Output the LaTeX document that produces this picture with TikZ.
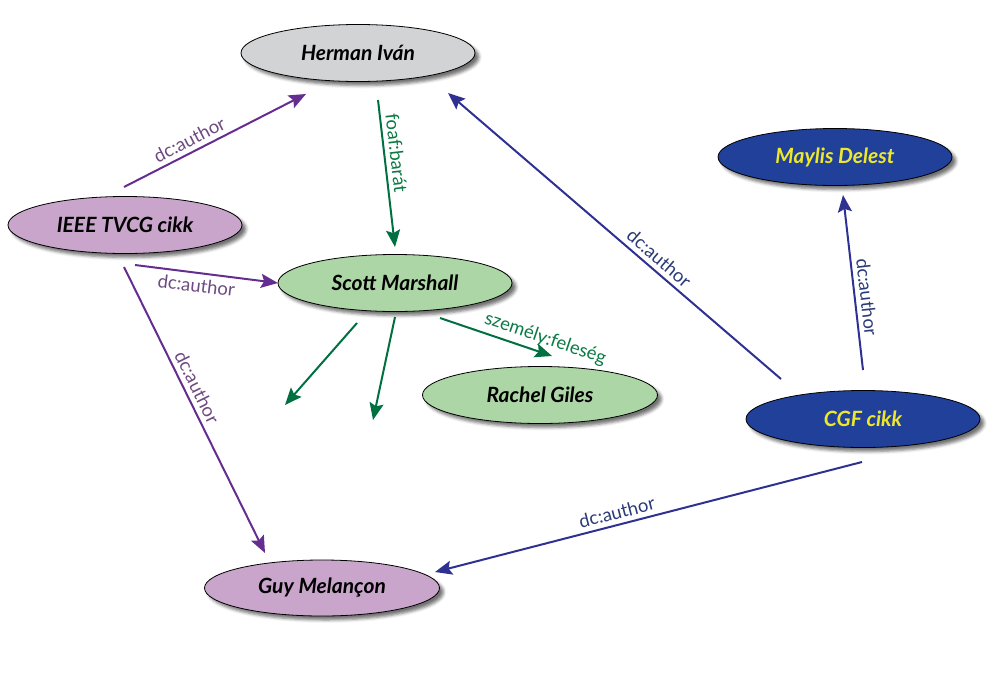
\documentclass[tikz,border=0pt]{standalone}
\usepackage{fontspec}
\setmainfont{Lato}
\usetikzlibrary{shapes.geometric,arrows.meta,shadows.blur}
\definecolor{grayfill}{HTML}{D1D3D4}
\definecolor{purplefill}{HTML}{C9A5CB}
\definecolor{greenfill}{HTML}{ADD6A6}
\definecolor{bluefill}{HTML}{21409A}
\definecolor{yellowtext}{HTML}{EEE82C}
\definecolor{purplearrow}{HTML}{662D91}
\definecolor{purplelabel}{HTML}{6E4A82}
\definecolor{greenarrow}{HTML}{007041}
\definecolor{greenlabel}{HTML}{0B7A44}
\definecolor{bluearrow}{HTML}{2E3192}
\definecolor{bluelabel}{HTML}{2B3A78}
\begin{document}
\begin{tikzpicture}[x=1pt,y=-1pt,
  nd/.style={ellipse, draw=black, line width=0.8pt, inner sep=0pt,
    minimum width=234pt, minimum height=57pt,
    blur shadow={shadow xshift=4pt, shadow yshift=-4pt, shadow opacity=55, shadow blur radius=3pt},
    font=\fontsize{21}{24}\selectfont\bfseries\itshape},
  graynd/.style={nd, fill=grayfill, text=black},
  purplend/.style={nd, fill=purplefill, text=black},
  greennd/.style={nd, fill=greenfill, text=black},
  bluend/.style={nd, fill=bluefill, text=yellowtext},
  arr/.style={line width=2pt, -{Stealth[length=17pt, width=14pt, inset=3pt]}},
  parr/.style={arr, draw=purplearrow},
  garr/.style={arr, draw=greenarrow},
  barr/.style={arr, draw=bluearrow},
  lab/.style={font=\fontsize{18.5}{21}\selectfont, inner sep=4.5pt, sloped},
  plab/.style={lab, text=purplelabel},
  glab/.style={lab, text=greenlabel},
  blab/.style={lab, text=bluelabel}
]
\useasboundingbox (0,0) rectangle (1002,689);

\node[graynd] (herman) at (358,53) {Herman Iván};
\node[purplend] (ieee) at (125,225) {IEEE TVCG cikk};
\node[greennd] (scott) at (395,283) {Scott Marshall};
\node[greennd, minimum width=235pt] (rachel) at (540,395) {Rachel Giles};
\node[bluend] (maylis) at (835,157) {Maylis Delest};
\node[bluend] (cgf) at (863,419) {CGF cikk};
\node[purplend, minimum width=235pt, minimum height=56pt] (guy) at (322,588) {Guy Melançon};

\coordinate (free1) at (285,405);
\coordinate (free2) at (373,420);

\draw[parr] ([shift={(-1,-38)}]ieee.center) -- node[plab, pos=0.39, above]{dc:author} ([shift={(-52,41)}]herman.center);
\draw[parr] ([shift={(10,40)}]ieee.center) -- node[plab, pos=0.44, below]{dc:author} ([shift={(-117,0)}]scott.center);
\draw[parr] ([shift={(-1,42)}]ieee.center) -- node[plab, pos=0.44, above]{dc:author} ([shift={(-57,-35)}]guy.center);

\draw[garr] ([shift={(20,47)}]herman.center) -- node[glab, pos=0.37, above]{foaf:barát} ([shift={(0,-36)}]scott.center);
\draw[garr] ([shift={(45,35)}]scott.center) -- node[glab, pos=0.9, above]{személy:feleség} ([shift={(12,-39)}]rachel.center);
\draw[garr] ([shift={(-38,40)}]scott.center) -- (free1);
\draw[garr] ([shift={(0,34)}]scott.center) -- (free2);

\draw[barr] ([shift={(-82,-40)}]cgf.center) -- node[blab, pos=0.39, above]{dc:author} ([shift={(90,40)}]herman.center);
\draw[barr] ([shift={(0,-49)}]cgf.center) -- node[blab, pos=0.41, above]{dc:author} ([shift={(8,38)}]maylis.center);
\draw[barr] ([shift={(-1,43)}]cgf.center) -- node[blab, pos=0.567, above]{dc:author} ([shift={(113,-16)}]guy.center);
\end{tikzpicture}
\end{document}
